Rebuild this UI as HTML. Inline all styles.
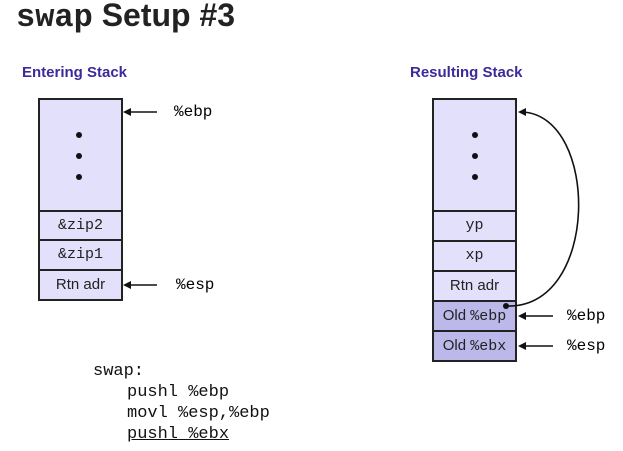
<!DOCTYPE html>
<html><head><style>
body{margin:0;width:623px;height:451px;background:#fff;position:relative;overflow:hidden;font-family:"Liberation Sans",sans-serif}
.a{position:absolute}
.h{font-weight:bold;color:#3a2a9a;font-size:15px}
.c{box-sizing:border-box;border:2px solid #222;background:#e2e0fa;text-align:center;font-size:15px;color:#222}
.m{font-family:"Liberation Mono",monospace}
.i{padding-left:34px}
</style></head><body>
<div class="a" style="left:16px;top:-3px;font-size:32px;font-weight:bold;color:#222;white-space:nowrap"><span class="m">swap</span> Setup #3</div>
<div class="a h" style="left:22px;top:64px">Entering Stack</div>
<div class="a h" style="left:410px;top:64px">Resulting Stack</div>

<div class="a c" style="left:38px;top:98px;width:85px;height:114px"></div>
<div class="a c m" style="left:38px;top:210px;width:85px;height:31px;line-height:27px">&amp;zip2</div>
<div class="a c m" style="left:38px;top:239px;width:85px;height:32px;line-height:28px">&amp;zip1</div>
<div class="a c" style="left:38px;top:269px;width:85px;height:32px;line-height:28px">Rtn adr</div>

<div class="a c" style="left:432px;top:98px;width:85px;height:114px"></div>
<div class="a c m" style="left:432px;top:210px;width:85px;height:32px;line-height:28px">yp</div>
<div class="a c m" style="left:432px;top:240px;width:85px;height:32px;line-height:28px">xp</div>
<div class="a c" style="left:432px;top:270px;width:85px;height:32px;line-height:28px">Rtn adr</div>
<div class="a c" style="left:432px;top:300px;width:85px;height:32px;line-height:28px;background:#bcb8ea">Old <span class="m">%ebp</span></div>
<div class="a c" style="left:432px;top:330px;width:85px;height:32px;line-height:28px;background:#bcb8ea">Old <span class="m">%ebx</span></div>

<svg class="a" style="left:0;top:0" width="623" height="451">
<g fill="#111"><circle cx="79" cy="135" r="3"/><circle cx="79" cy="156" r="3"/><circle cx="79" cy="177" r="3"/>
<circle cx="475" cy="135" r="3"/><circle cx="475" cy="156" r="3"/><circle cx="475" cy="177" r="3"/>
<circle cx="506" cy="306" r="3"/></g>
<g stroke="#111" stroke-width="1.6" fill="none">
<line x1="157" y1="112" x2="127" y2="112"/><line x1="157" y1="285" x2="127" y2="285"/>
<line x1="553" y1="316" x2="522" y2="316"/><line x1="553" y1="346" x2="522" y2="346"/>
<path d="M506 306 C600 310 600 115 522 112"/>
</g>
<g fill="#111"><path d="M123 112l8-4v8z"/><path d="M123 285l8-4v8z"/><path d="M518 316l8-4v8z"/><path d="M518 346l8-4v8z"/><path d="M518 112l8-4v8z"/></g>
</svg>
<div class="a m" style="left:174px;top:103px;font-size:16px">%ebp</div>
<div class="a m" style="left:176px;top:276px;font-size:16px">%esp</div>
<div class="a m" style="left:567px;top:307px;font-size:16px">%ebp</div>
<div class="a m" style="left:567px;top:337px;font-size:16px">%esp</div>
<div class="a m" style="left:93px;top:361px;font-size:17px;line-height:21px;color:#111;white-space:nowrap"><div>swap:</div><div class="i">pushl %ebp</div><div class="i">movl %esp,%ebp</div><div class="i"><u>pushl %ebx</u></div></div>
</body></html>
